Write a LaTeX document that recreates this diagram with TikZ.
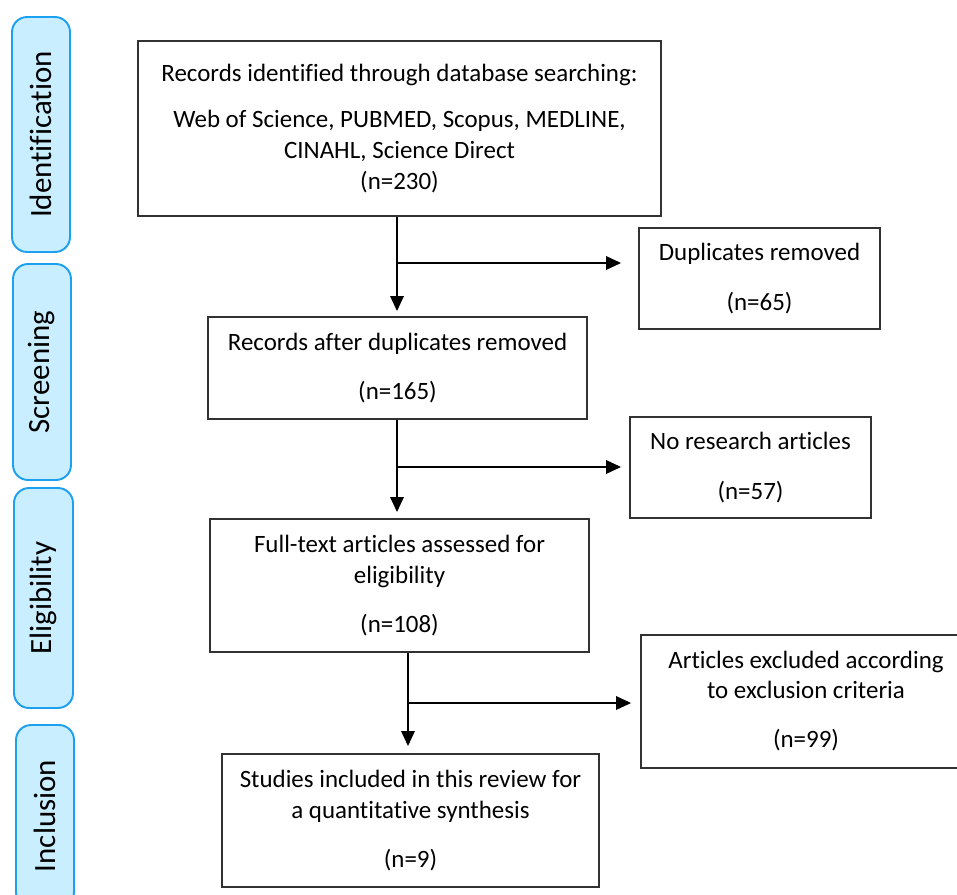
\documentclass[tikz,border=0pt]{standalone}
\usepackage{fontspec}
\setmainfont{Carlito}[Ligatures=NoCommon]
\usetikzlibrary{arrows.meta}
\definecolor{lblfill}{RGB}{200,238,255}
\definecolor{lblline}{RGB}{30,160,240}
\definecolor{boxline}{RGB}{50,50,50}
\tikzset{
  stagebox/.style={draw=lblline, fill=lblfill, line width=1.1pt, rounded corners=0.3cm,
    rotate=90, inner sep=0pt, font=\fontsize{17.6}{20}\selectfont, text=black},
  flowbox/.style={draw=boxline, line width=1pt, inner sep=0pt, align=center,
    font=\fontsize{14.2}{17.6}\selectfont},
  arr/.style={line width=1.3pt, -{Triangle[length=8.5pt,width=7.5pt]}}
}
\begin{document}
\begin{tikzpicture}[x=0.02cm, y=-0.02cm]
\useasboundingbox (0,0) rectangle (957,895);
\clip (0,0) rectangle (957,895);
% stage labels
\node[stagebox, minimum width=4.7cm, minimum height=1.16cm] (L1) at (41,134.5) {Identification};
\node[stagebox, minimum width=4.32cm, minimum height=1.16cm] (L2) at (42,372) {Screening};
\node[stagebox, minimum width=4.4cm, minimum height=1.18cm] (L3) at (43.5,598) {Eligibility};
\node[stagebox, minimum width=3.64cm, minimum height=1.16cm] (L4) at (45,816) {Inclusion};
% boxes
\node[flowbox, minimum width=10.46cm, minimum height=3.5cm] (B1) at (399.5,128.5)
  {Records identified through database searching:\\[9pt]
   Web of Science, PUBMED, Scopus, MEDLINE,\\
   CINAHL, Science Direct\\
   (n=230)};
\node[flowbox, minimum width=4.82cm, minimum height=2.02cm] (D) at (759.5,278.5)
  {Duplicates removed\\[10.7pt] (n=65)};
\node[flowbox, minimum width=7.58cm, minimum height=2.04cm] (B2) at (397.5,368)
  {Records after duplicates removed\\[10.7pt] (n=165)};
\node[flowbox, minimum width=4.82cm, minimum height=2.02cm] (N) at (750.5,467.5)
  {No research articles\\[10.7pt] (n=57)};
\node[flowbox, minimum width=7.58cm, minimum height=2.66cm] (B3) at (399.5,585.5)
  {Full-text articles assessed for\\ eligibility\\[10.7pt] (n=108)};
\node[flowbox, minimum width=6.6cm, minimum height=2.66cm] (E) at (806,701.5)
  {Articles excluded according\\[-1pt] to exclusion criteria\\[10.7pt] (n=99)};
\node[flowbox, minimum width=7.54cm, minimum height=2.66cm] (B4) at (410.5,820.5)
  {Studies included in this review for\\ a quantitative synthesis\\[10.7pt] (n=9)};
% junctions
\coordinate (j1) at (397,263);
\coordinate (j2) at (397,467);
\coordinate (j3) at (408,703);
% connectors
\draw[arr, shorten >=0.1cm] (j1 |- B1.south) -- (j1 |- B2.north);
\draw[arr, shorten >=0.34cm] (j1) -- (j1 -| D.west);
\draw[arr, shorten >=0.12cm] (j2 |- B2.south) -- (j2 |- B3.north);
\draw[arr, shorten >=0.16cm] (j2) -- (j2 -| N.west);
\draw[arr, shorten >=0.14cm] (j3 |- B3.south) -- (j3 |- B4.north);
\draw[arr, shorten >=0.18cm] (j3) -- (j3 -| E.west);
\end{tikzpicture}
\end{document}
